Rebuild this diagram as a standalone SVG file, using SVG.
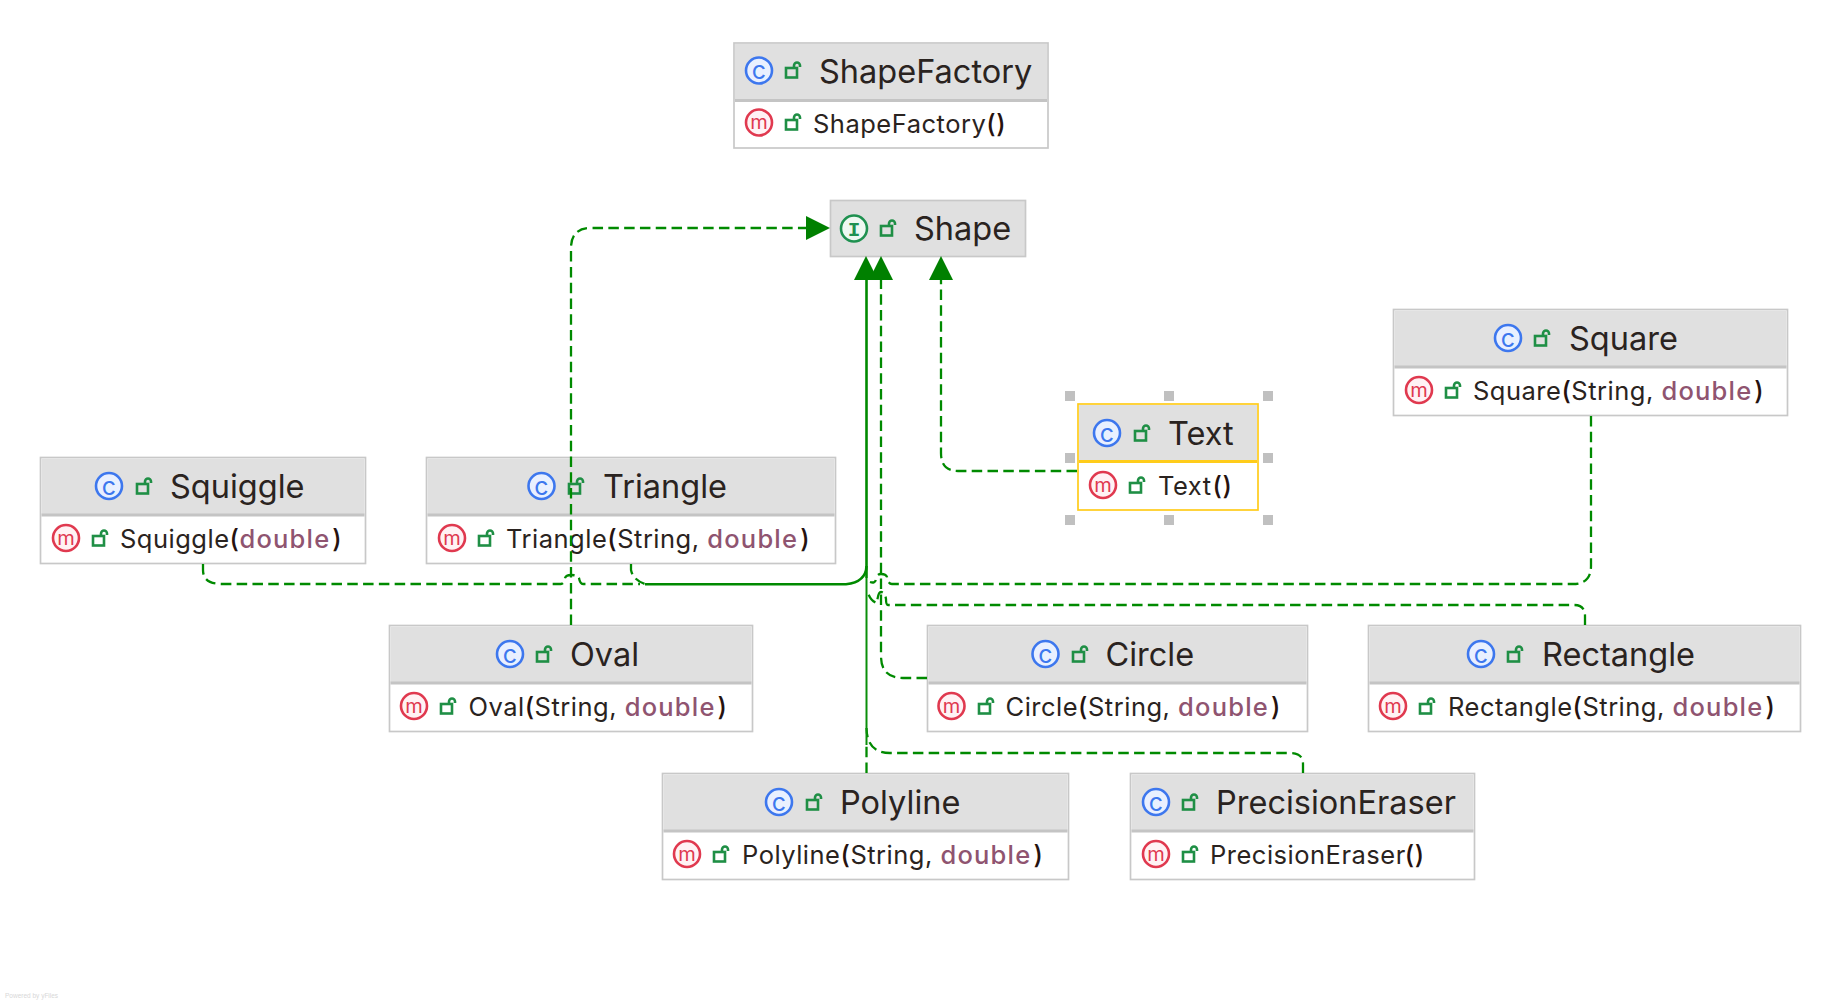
<svg xmlns="http://www.w3.org/2000/svg" width="1842" height="1004" viewBox="0 0 1842 1004">
<style>
text{font-family:"Inter","Liberation Sans",sans-serif;fill:#2a2320}
.box{fill:#fff;stroke:#c8c8c8;stroke-width:1.700}
.hd{fill:#e0e0e0}
.dv{stroke:#c4c4c4;stroke-width:3}
.t{font-size:32.500px}
.m{font-size:25.500px;letter-spacing:.5px}
.k{fill:#8f5470;font-weight:500;letter-spacing:1.200px}
.p{font-weight:500;fill:#26120f}
.ic{stroke-width:2.600}
.c{fill:#e9f0ff;stroke:#3d77ee}
.mm{fill:#fff2f4;stroke:#e0394f}
.i{fill:#eef8f1;stroke:#1f9150}
.g{text-anchor:middle}
.gc{fill:#3d77ee;font-size:25px}
.gm{fill:#e0394f;font-size:20px}
.gi{fill:#1f9150;font-weight:700;font-size:21px;font-family:"Liberation Mono",monospace}
.lock{fill:none;stroke:#1f8f45;stroke-width:2.600}
.e{fill:none;stroke:#008a00;stroke-width:2.300;stroke-dasharray:10.500 5.300}
.s{fill:none;stroke:#008a00;stroke-width:2.600}
.s2{fill:none;stroke:#0a8f0a;stroke-width:2}
.h{fill:#c0c0c0}
.a{fill:#008000}
</style>
<defs>
<g id="lk"><rect class="lock" x="-7" y="-3" width="11" height="9.500"/><path class="lock" d="M1 -3V-5.500A3 3 0 0 1 7 -5.500V-4"/></g>
</defs>
<g id="ShapeFactory"><rect class="box" x="734" y="43" width="314" height="105"/><rect class="hd" x="735" y="44" width="312" height="56"/><path class="dv" d="M735 100.500H1047"/>
<circle class="ic c" cx="759" cy="70.500" r="13"/><text class="g gc" x="759" y="79">c</text><use href="#lk" x="793" y="71"/><text class="t" x="819" y="83">ShapeFactory</text>
<circle class="ic mm" cx="759" cy="122.500" r="13"/><text class="g gm" x="759" y="129">m</text><use href="#lk" x="793" y="123"/><text class="m" x="813" y="133">ShapeFactory<tspan class="p">()</tspan></text></g>
<g id="Shape"><rect class="hd" x="830.500" y="200.500" width="195" height="56" stroke="#c8c8c8" stroke-width="1.700"/>
<circle class="ic i" cx="854" cy="228.500" r="13"/><text class="g gi" x="854" y="235.500">I</text><use href="#lk" x="888" y="229"/><text class="t" x="914" y="240">Shape</text></g>
<g id="Square"><rect class="box" x="1393.500" y="309.500" width="394" height="106"/><rect class="hd" x="1394.500" y="310.500" width="392" height="56"/><path class="dv" d="M1394.500 367H1786.500"/>
<circle class="ic c" cx="1508" cy="338" r="13"/><text class="g gc" x="1508" y="346.500">c</text><use href="#lk" x="1542" y="339"/><text class="t" x="1569" y="350">Square</text>
<circle class="ic mm" cx="1419" cy="390" r="13"/><text class="g gm" x="1419" y="396.500">m</text><use href="#lk" x="1453" y="391"/><text class="m" x="1473" y="400">Square<tspan class="p">(</tspan>String, <tspan class="k">double</tspan><tspan class="p" dx="2">)</tspan></text></g>
<g id="Text"><rect class="box" x="1078" y="404" width="180" height="106" style="stroke:#ffcc1a"/><rect class="hd" x="1079" y="405" width="178" height="56"/><path d="M1079 461.500H1257" stroke="#ffcc1a" stroke-width="3"/>
<circle class="ic c" cx="1107" cy="433" r="13"/><text class="g gc" x="1107" y="441.500">c</text><use href="#lk" x="1142" y="434"/><text class="t" x="1168" y="445">Text</text>
<circle class="ic mm" cx="1103" cy="485" r="13"/><text class="g gm" x="1103" y="491.500">m</text><use href="#lk" x="1137" y="486"/><text class="m" x="1158" y="495">Text<tspan class="p" dx="1">()</tspan></text>
<rect class="h" x="1065" y="391" width="10" height="10"/><rect class="h" x="1164" y="391" width="10" height="10"/><rect class="h" x="1263" y="391" width="10" height="10"/><rect class="h" x="1065" y="453" width="10" height="10"/><rect class="h" x="1263" y="453" width="10" height="10"/><rect class="h" x="1065" y="515" width="10" height="10"/><rect class="h" x="1164" y="515" width="10" height="10"/><rect class="h" x="1263" y="515" width="10" height="10"/></g>
<g id="Squiggle"><rect class="box" x="40.500" y="457.500" width="325" height="106"/><rect class="hd" x="41.500" y="458.500" width="323" height="56"/><path class="dv" d="M41.500 515H364.500"/>
<circle class="ic c" cx="109" cy="486" r="13"/><text class="g gc" x="109" y="494.500">c</text><use href="#lk" x="144" y="487"/><text class="t" x="170" y="498">Squiggle</text>
<circle class="ic mm" cx="66" cy="538" r="13"/><text class="g gm" x="66" y="544.500">m</text><use href="#lk" x="100" y="539"/><text class="m" x="120" y="548">Squiggle<tspan class="p">(</tspan><tspan class="k">double</tspan><tspan class="p" dx="2">)</tspan></text></g>
<g id="Triangle"><rect class="box" x="426.500" y="457.500" width="409" height="106"/><rect class="hd" x="427.500" y="458.500" width="407" height="56"/><path class="dv" d="M427.500 515H834.500"/>
<circle class="ic c" cx="541.500" cy="486" r="13"/><text class="g gc" x="541.500" y="494.500">c</text><use href="#lk" x="576" y="487"/><text class="t" x="603" y="498">Triangle</text>
<circle class="ic mm" cx="452" cy="538" r="13"/><text class="g gm" x="452" y="544.500">m</text><use href="#lk" x="486" y="539"/><text class="m" x="506" y="548">Triangle<tspan class="p">(</tspan>String, <tspan class="k">double</tspan><tspan class="p" dx="2">)</tspan></text></g>
<g id="Oval"><rect class="box" x="389.500" y="625.500" width="363" height="106"/><rect class="hd" x="390.500" y="626.500" width="361" height="56"/><path class="dv" d="M390.500 683H751.500"/>
<circle class="ic c" cx="510" cy="654" r="13"/><text class="g gc" x="510" y="662.500">c</text><use href="#lk" x="544" y="655"/><text class="t" x="570" y="666">Oval</text>
<circle class="ic mm" cx="414" cy="706" r="13"/><text class="g gm" x="414" y="712.500">m</text><use href="#lk" x="448" y="707"/><text class="m" x="468.500" y="715.500">Oval<tspan class="p">(</tspan>String, <tspan class="k">double</tspan><tspan class="p" dx="2">)</tspan></text></g>
<g id="Circle"><rect class="box" x="927.500" y="625.500" width="380" height="106"/><rect class="hd" x="928.500" y="626.500" width="378" height="56"/><path class="dv" d="M928.500 683H1306.500"/>
<circle class="ic c" cx="1045.500" cy="654" r="13"/><text class="g gc" x="1045.500" y="662.500">c</text><use href="#lk" x="1080" y="655"/><text class="t" x="1105.500" y="666">Circle</text>
<circle class="ic mm" cx="951.500" cy="706" r="13"/><text class="g gm" x="951.500" y="712.500">m</text><use href="#lk" x="986" y="707"/><text class="m" x="1005.500" y="715.500">Circle<tspan class="p">(</tspan>String, <tspan class="k">double</tspan><tspan class="p" dx="2">)</tspan></text></g>
<g id="Rectangle"><rect class="box" x="1368.500" y="625.500" width="432" height="106"/><rect class="hd" x="1369.500" y="626.500" width="430" height="56"/><path class="dv" d="M1369.500 683H1799.500"/>
<circle class="ic c" cx="1481" cy="654" r="13"/><text class="g gc" x="1481" y="662.500">c</text><use href="#lk" x="1515" y="655"/><text class="t" x="1542" y="666">Rectangle</text>
<circle class="ic mm" cx="1393" cy="706" r="13"/><text class="g gm" x="1393" y="712.500">m</text><use href="#lk" x="1427" y="707"/><text class="m" x="1448" y="715.500">Rectangle<tspan class="p">(</tspan>String, <tspan class="k">double</tspan><tspan class="p" dx="2">)</tspan></text></g>
<g id="Polyline"><rect class="box" x="662.500" y="773.500" width="406" height="106"/><rect class="hd" x="663.500" y="774.500" width="404" height="56"/><path class="dv" d="M663.500 831H1067.500"/>
<circle class="ic c" cx="779" cy="802" r="13"/><text class="g gc" x="779" y="810.500">c</text><use href="#lk" x="814" y="803"/><text class="t" x="840" y="814">Polyline</text>
<circle class="ic mm" cx="687" cy="854" r="13"/><text class="g gm" x="687" y="860.500">m</text><use href="#lk" x="721" y="855"/><text class="m" x="742" y="864">Polyline<tspan class="p">(</tspan>String, <tspan class="k">double</tspan><tspan class="p" dx="2">)</tspan></text></g>
<g id="PrecisionEraser"><rect class="box" x="1130.500" y="773.500" width="344" height="106"/><rect class="hd" x="1131.500" y="774.500" width="342" height="56"/><path class="dv" d="M1131.500 831H1473.500"/>
<circle class="ic c" cx="1156" cy="802" r="13"/><text class="g gc" x="1156" y="810.500">c</text><use href="#lk" x="1190" y="803"/><text class="t" x="1216" y="814">PrecisionEraser</text>
<circle class="ic mm" cx="1156" cy="854" r="13"/><text class="g gm" x="1156" y="860.500">m</text><use href="#lk" x="1190" y="855"/><text class="m" x="1210" y="864">PrecisionEraser<tspan class="p" dx="-1">()</tspan></text></g>
<g id="connectors">
<path class="e" d="M571 625V248Q571 228 591 228H808"/>
<path class="e" d="M1077 471H958Q941 471 941 453V280"/>
<path class="e" d="M927 678H903Q881 678 881 656V280"/>
<path class="e" d="M203 564V570Q203 584 222 584H561Q564 584 565 578Q566 575 571 575Q578 575 579 578Q580 584 583 584H640"/>
<path class="e" d="M631 564V570Q633 580 645 584"/>
<path class="s" d="M645 584.300H846Q866 582 866.500 566"/>
<path class="e" d="M1591 416V566Q1591 584 1573 584H892Q888 584 887 577Q886 574 881 574Q877 574 876 578Q876 584 870 582"/>
<path class="e" d="M1585 625V616Q1585 605 1574 605H888Q886 605 886 599Q885 592 881 592Q878 592 877 603Q870 601 867 590"/>
<path class="e" d="M1303 773V764Q1303 753 1290 753H890Q867 753 866.500 728"/>
<path class="e" d="M866.500 773V745"/>
<path class="s2" d="M866.500 745V578"/>
<path class="s" d="M866.500 280V578"/>
<path class="a" d="M830 228L806 216V240Z"/>
<path class="a" d="M866 256L854 280H878Z"/>
<path class="a" d="M881 256L869 280H893Z"/>
<path class="a" d="M941 256L929 280H953Z"/>
</g>
<text x="5" y="998" style="font-size:6.500px;fill:#d8d8d8;font-family:'Liberation Sans',sans-serif">Powered by yFiles</text>
</svg>
